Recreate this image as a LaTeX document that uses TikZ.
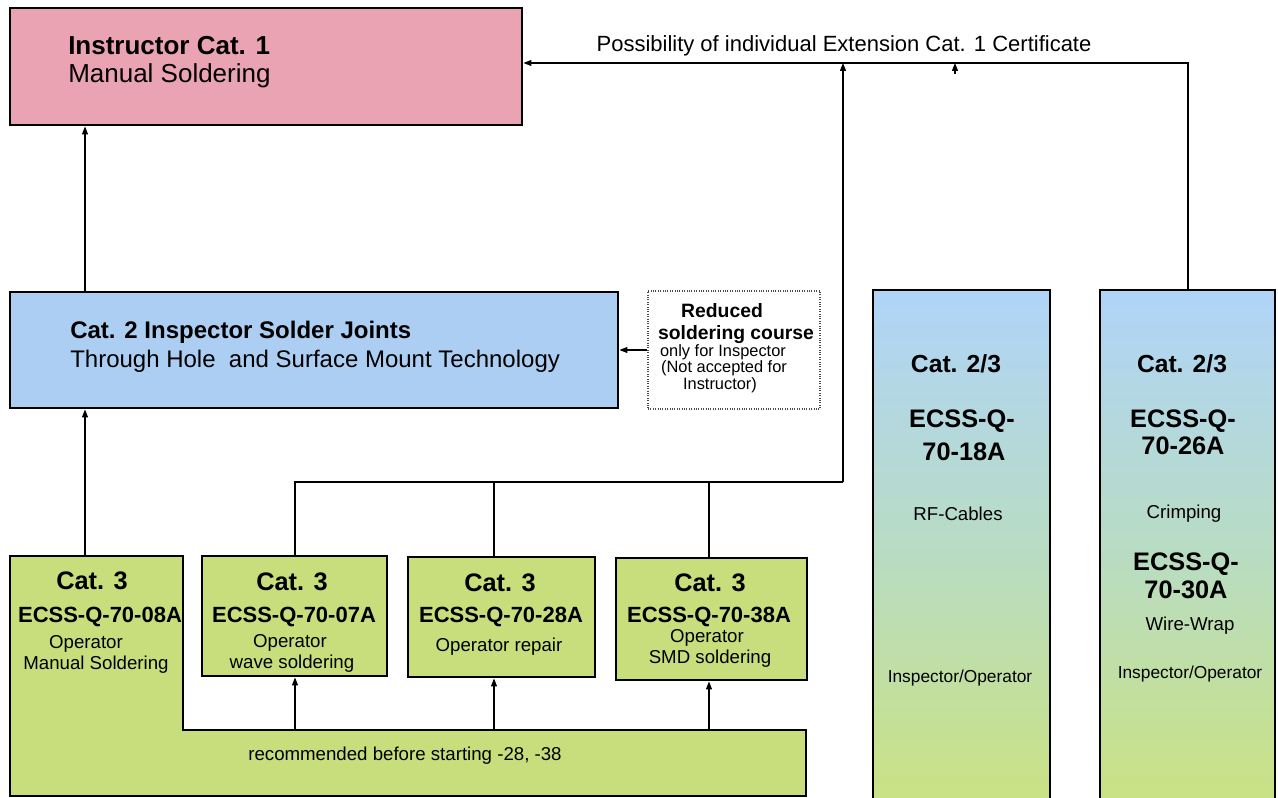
\documentclass[tikz,border=0pt]{standalone}
\usepackage{fontspec}
\setmainfont{Liberation Sans}
\usetikzlibrary{arrows.meta}
\definecolor{pinkc}{RGB}{233,163,178}
\definecolor{bluec}{RGB}{172,206,242}
\definecolor{greenc}{RGB}{200,222,124}
\definecolor{coltop}{RGB}{176,212,248}
\definecolor{colmid}{RGB}{184,220,196}
\definecolor{colbot}{RGB}{202,226,130}
\tikzset{
  box/.style={draw=black, line width=2.2pt, inner sep=0pt, line join=miter},
  dotbox/.style={draw=black!70, densely dotted, line width=0.8pt, inner sep=0pt, fill=white},
  arr/.style={-{Triangle[length=6pt,width=4.5pt]}, line width=0.9pt},
  conn/.style={line width=0.9pt},
  col/.style={box, top color=coltop, bottom color=colbot, middle color=colmid},
  tb/.style={font=\bfseries\fontsize{#1}{#1}\selectfont, inner sep=0pt},
  tr/.style={font=\fontsize{#1}{#1}\selectfont, inner sep=0pt},
}
\begin{document}
\begin{tikzpicture}[x=0.75pt,y=-0.75pt]
\useasboundingbox (0,0) rectangle (1278,798);
\fill[white] (0,0) rectangle (1278,798);

% main boxes
\node[box, fill=pinkc, minimum width=384pt, minimum height=87.75pt] (instr) at (266,66.5) {};
\node[box, fill=bluec, minimum width=456pt, minimum height=87pt] (cat2) at (314,350) {};
\node[dotbox, minimum width=129pt, minimum height=88.5pt] (red) at (734,350) {};
\node[col, minimum width=132.75pt, minimum height=387pt] (c1) at (961.5,548) {};
\node[col, minimum width=131.25pt, minimum height=387pt] (c2) at (1187.5,548) {};

% L-shaped box
\path[box, fill=greenc] (10,556) -- (183,556) -- (183,730) -- (806,730) -- (806,796) -- (10,796) -- cycle;
\coordinate (lt) at (85,556);
\coordinate (a07) at (295,730);
\coordinate (a28) at (494,730);
\coordinate (a38) at (709,730);

\node[box, fill=greenc, minimum width=138.75pt, minimum height=90pt] (b07) at (294.5,616) {};
\node[box, fill=greenc, minimum width=140.25pt, minimum height=90pt] (b28) at (501.5,617) {};
\node[box, fill=greenc, minimum width=143.25pt, minimum height=91.5pt] (b38) at (711.5,619) {};

% texts
\node[tb=19.5pt, anchor=base west] (t1) at (68,55) {Instructor Cat. 1};
\node[tr=19.5pt, anchor=base west] (t2) at (68,83) {Manual Soldering};
\node[tr=16.5pt, anchor=base] (tp) at (844,52) {Possibility of individual Extension Cat. 1 Certificate};
\node[tb=18pt, anchor=base west] (t3) at (70,339) {Cat. 2 Inspector Solder Joints};
\node[tr=18pt, anchor=base west] (t4) at (70,368) {Through Hole\ \ and Surface Mount Technology};

\node[tb=14.5pt, anchor=base] (r1) at (722,318) {Reduced};
\node[tb=14.5pt, anchor=base] (r2) at (736,340) {soldering course};
\node[tr=12.3pt, anchor=base] (r3) at (723,357) {only for Inspector};
\node[tr=12.3pt, anchor=base] (r4) at (724,373) {(Not accepted for};
\node[tr=12.3pt, anchor=base] (r5) at (720,390) {Instructor)};

\node[tb=18.5pt, anchor=base] (k1) at (956,373) {Cat. 2/3};
\node[tb=19pt, anchor=base] (k2) at (962,428) {ECSS-Q-};
\node[tb=19pt, anchor=base] (k3) at (964,460) {70-18A};
\node[tr=14pt, anchor=base] (k4) at (958,520) {RF-Cables};
\node[tr=13pt, anchor=base] (k5) at (960,682) {Inspector/Operator};

\node[tb=18.5pt, anchor=base] (m1) at (1182,373) {Cat. 2/3};
\node[tb=19pt, anchor=base] (m2) at (1183,427) {ECSS-Q-};
\node[tb=19pt, anchor=base] (m3) at (1183,455) {70-26A};
\node[tr=14pt, anchor=base] (m4) at (1184,518) {Crimping};
\node[tb=19pt, anchor=base] (m5) at (1186,570) {ECSS-Q-};
\node[tb=19pt, anchor=base] (m6) at (1186,598) {70-30A};
\node[tr=14pt, anchor=base] (m7) at (1190,630) {Wire-Wrap};
\node[tr=13pt, anchor=base] (m8) at (1190,678) {Inspector/Operator};

\node[tb=19pt, anchor=base] (s1) at (92,589) {Cat. 3};
\node[tb=16.5pt, anchor=base] (s2) at (100,622) {ECSS-Q-70-08A};
\node[tr=14pt, anchor=base] (s3) at (86,648) {Operator};
\node[tr=14pt, anchor=base] (s4) at (96,669) {Manual Soldering};

\node[tb=19pt, anchor=base] (u1) at (292,590) {Cat. 3};
\node[tb=16.5pt, anchor=base] (u2) at (294,622) {ECSS-Q-70-07A};
\node[tr=14pt, anchor=base] (u3) at (290,647) {Operator};
\node[tr=14pt, anchor=base] (u4) at (292,668) {wave soldering};

\node[tb=19pt, anchor=base] (v1) at (500,591) {Cat. 3};
\node[tb=16.5pt, anchor=base] (v2) at (501,622) {ECSS-Q-70-28A};
\node[tr=14pt, anchor=base] (v3) at (499,651) {Operator repair};

\node[tb=19pt, anchor=base] (w1) at (710,591) {Cat. 3};
\node[tb=16.5pt, anchor=base] (w2) at (709,622) {ECSS-Q-70-38A};
\node[tr=14pt, anchor=base] (w3) at (707,642) {Operator};
\node[tr=14pt, anchor=base] (w4) at (710,663) {SMD soldering};

\node[tr=14pt, anchor=base] (rec) at (405,760) {recommended before starting -28, -38};

% connectors
\draw[arr] (lt) -- (lt |- cat2.south);
\draw[arr] (cat2.north -| lt) -- (instr.south -| lt);
\draw[arr] (red.west) -- (cat2.east |- red.west);

\draw[arr] (a07) -- (a07 |- b07.south);
\draw[arr] (a28) -- (a28 |- b28.south);
\draw[arr] (a38) -- (a38 |- b38.south);

\coordinate (jR) at (843,482);
\coordinate (hl) at (843,63);
\coordinate (hR) at (1188,63);
\draw[conn] (a07 |- b07.north) -- (a07 |- jR) -- (jR);
\draw[conn] (a28 |- b28.north) -- (a28 |- jR);
\draw[conn] (a38 |- b38.north) -- (a38 |- jR);
\draw[arr] (jR) -- (hl);
\draw[arr] (hR |- c2.north) -- (hR) -- (hR -| instr.east);
\coordinate (sa) at (955,74);
\draw[arr] (sa) -- (sa |- hR);
\end{tikzpicture}
\end{document}
